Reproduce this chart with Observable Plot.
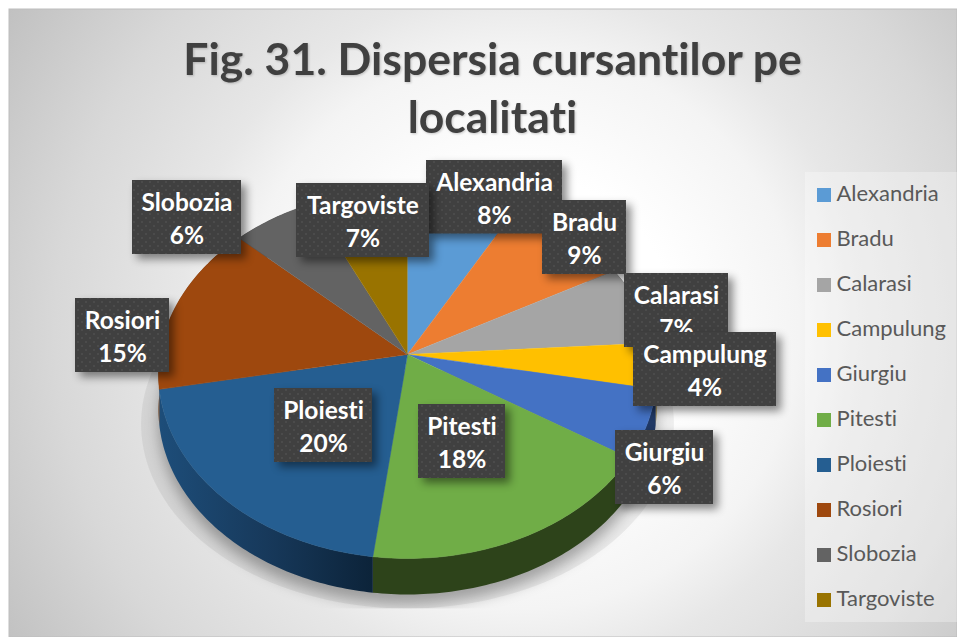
<!DOCTYPE html>
<html><head><meta charset="utf-8">
<style>html,body{margin:0;padding:0;background:#fff}svg{display:block}svg text{font-variant-ligatures:none;font-feature-settings:"liga" 0,"clig" 0}</style>
<script src="https://cdn.jsdelivr.net/npm/d3@7"></script>
<script src="https://cdn.jsdelivr.net/npm/@observablehq/plot@0.6"></script>
</head><body><div id="chart"></div>
<script>
const titleLines = ["Fig. 31. Dispersia cursantilor pe", "localitati"];
const categories = ["Alexandria","Bradu","Calarasi","Campulung","Giurgiu","Pitesti","Ploiesti","Rosiori","Slobozia","Targoviste"];
const percents = [8,9,7,4,6,18,20,15,6,7];
const colors = ["#5b9bd5","#ed7d31","#a5a5a5","#ffc000","#4472c4","#70ad47","#255e91","#9e480e","#636363","#997300"];
const sideFills = ["#30526f","#7a3f18","#555","#806000","#203864","#2d431a","url(#sideBlue)","#5a2a08","#333","#4d3a00"];

// layout of the hand-placed data-label boxes [left, top, right, bottom]
const boxLayout = [[426,160,562,233.5],[542,200,626,274],[624,273,728,347],[633,332,776,406],[615,430,713,504],
  [418,404,505,478],[274,388,372,462],[75,298,169,372],[132,180,241,254],[296,183,429,257]];

// tilted, perspective disc
const W = 957, H = 637, cx = 407, cy = 354, f = 247.6, g = 182.4, k = 0.1057, depth = 36;
const proj = t => { const X = Math.sin(t), Z = Math.cos(t), d = 1 + k * Z;
  return [cx + f * X / d, cy - g * Z / d]; };
const total = d3.sum(percents);
let acc = 0;
const slices = categories.map((name, i) => { const a0 = acc / total * 2 * Math.PI; acc += percents[i];
  const a1 = acc / total * 2 * Math.PI, n = Math.max(4, Math.ceil((a1 - a0) * 60));
  return {name, i, arc: d3.range(n + 1).map(j => proj(a0 + (a1 - a0) * j / n))}; });
const face = slices.flatMap(s => [[cx, cy], ...s.arc].map(p => ({name: s.name, x: p[0], y: p[1]})));
const sidePts = s => [...s.arc.map(p => ({x: p[0], y: p[1]})), ...s.arc.slice().reverse().map(p => ({x: p[0], y: p[1] + depth}))];
const rim = d3.range(181).map(j => proj(j / 180 * 2 * Math.PI));
const shadowPts = (sx, dy) => rim.map(p => ({x: cx + (p[0] - cx) * sx, y: p[1] + dy}));
const clipTo = (i, s, v, d, c, next) => { const el = next(i, s, v, d, c); el.setAttribute("clip-path", "url(#shadowClip)"); return el; };

const labelMarks = categories.flatMap((name, i) => { const [l, t, r, b] = boxLayout[i];
  return [
    Plot.rect([0], {x1: () => l, x2: () => r, y1: () => t, y2: () => b, fill: "url(#dots)",
      imageFilter: "drop-shadow(5px 5px 4px rgba(0,0,0,0.45))"}),
    Plot.text([`${name}\n${percents[i]}%`], {x: () => (l + r) / 2, y: () => t + 36, text: d => d,
      fill: "#fff", fontWeight: 700, fontSize: 24.5, lineHeight: 1.36, fontFamily: "Lato"})
  ]; });

const chart = Plot.plot({
  width: W, height: H, margin: 0, style: {background: "#fff", fontFamily: "Lato"},
  x: {domain: [0, W], range: [0, W], axis: null},
  y: {domain: [0, H], range: [0, H], axis: null},
  color: {domain: categories, range: colors},
  marks: [
    Plot.rect([0], {x1: () => 9, x2: () => W, y1: () => 9, y2: () => H, fill: "url(#bg)", stroke: "#bdbdbd", strokeWidth: 1}),
    Plot.text(titleLines, {x: () => 492, y: (d, i) => 60 + i * 58, text: d => d, fill: "#404040", fontWeight: 700, fontSize: 44.5,
      fontFamily: "Lato", imageFilter: "drop-shadow(1px 1px 1px rgba(0,0,0,0.2))"}),
    Plot.rect([0], {x1: () => 805, x2: () => W, y1: () => 172, y2: () => 622, fill: "#fff", fillOpacity: 0.3}),
    Plot.rect(categories, {x1: () => 817, x2: () => 831, y1: (d, i) => 188 + i * 45, y2: (d, i) => 202 + i * 45, fill: d => d}),
    Plot.text(categories, {x: () => 836, y: (d, i) => 193.5 + i * 45, text: d => d, textAnchor: "start", fill: "#595959", fontSize: 22, fontFamily: "Lato"}),
    // soft shadows below the disc
    Plot.line(shadowPts(1.07, 50), {x: "x", y: "y", fill: "#000", fillOpacity: 0.06, stroke: "none", render: clipTo}),
    Plot.line(shadowPts(1.0, 46), {x: "x", y: "y", fill: "#000", fillOpacity: 0.3, stroke: "none", imageFilter: "blur(7px)", render: clipTo}),
    // extruded rim, then top face
    ...slices.map(s => Plot.line(sidePts(s), {x: "x", y: "y", fill: sideFills[s.i], stroke: "none"})),
    Plot.line(face, {x: "x", y: "y", z: "name", fill: "name", stroke: "name", strokeWidth: 0.5}),
    ...labelMarks
  ]
});
chart.insertAdjacentHTML("afterbegin", `<defs>
<radialGradient id="bg" gradientUnits="userSpaceOnUse" cx="520" cy="330" r="620">
<stop offset="0.25" stop-color="#fff"/><stop offset="0.45" stop-color="#f4f4f4"/><stop offset="0.55" stop-color="#e7e7e7"/><stop offset="0.75" stop-color="#d8d8d8"/><stop offset="1" stop-color="#bebebe"/>
</radialGradient>
<linearGradient id="sideBlue" gradientUnits="userSpaceOnUse" x1="160" y1="0" x2="373" y2="0">
<stop offset="0" stop-color="#1d4d79"/><stop offset="0.5" stop-color="#17395b"/><stop offset="1" stop-color="#0c2339"/>
</linearGradient>
<pattern id="dots" patternUnits="userSpaceOnUse" width="8" height="8">
<rect width="8" height="8" fill="#404040"/><circle cx="2" cy="2" r="0.8" fill="#585858"/><circle cx="6" cy="6" r="0.8" fill="#585858"/>
</pattern>
<clipPath id="shadowClip"><rect x="0" y="370" width="${W}" height="238"/></clipPath>
</defs>`);
document.getElementById("chart").append(chart);
</script></body></html>
